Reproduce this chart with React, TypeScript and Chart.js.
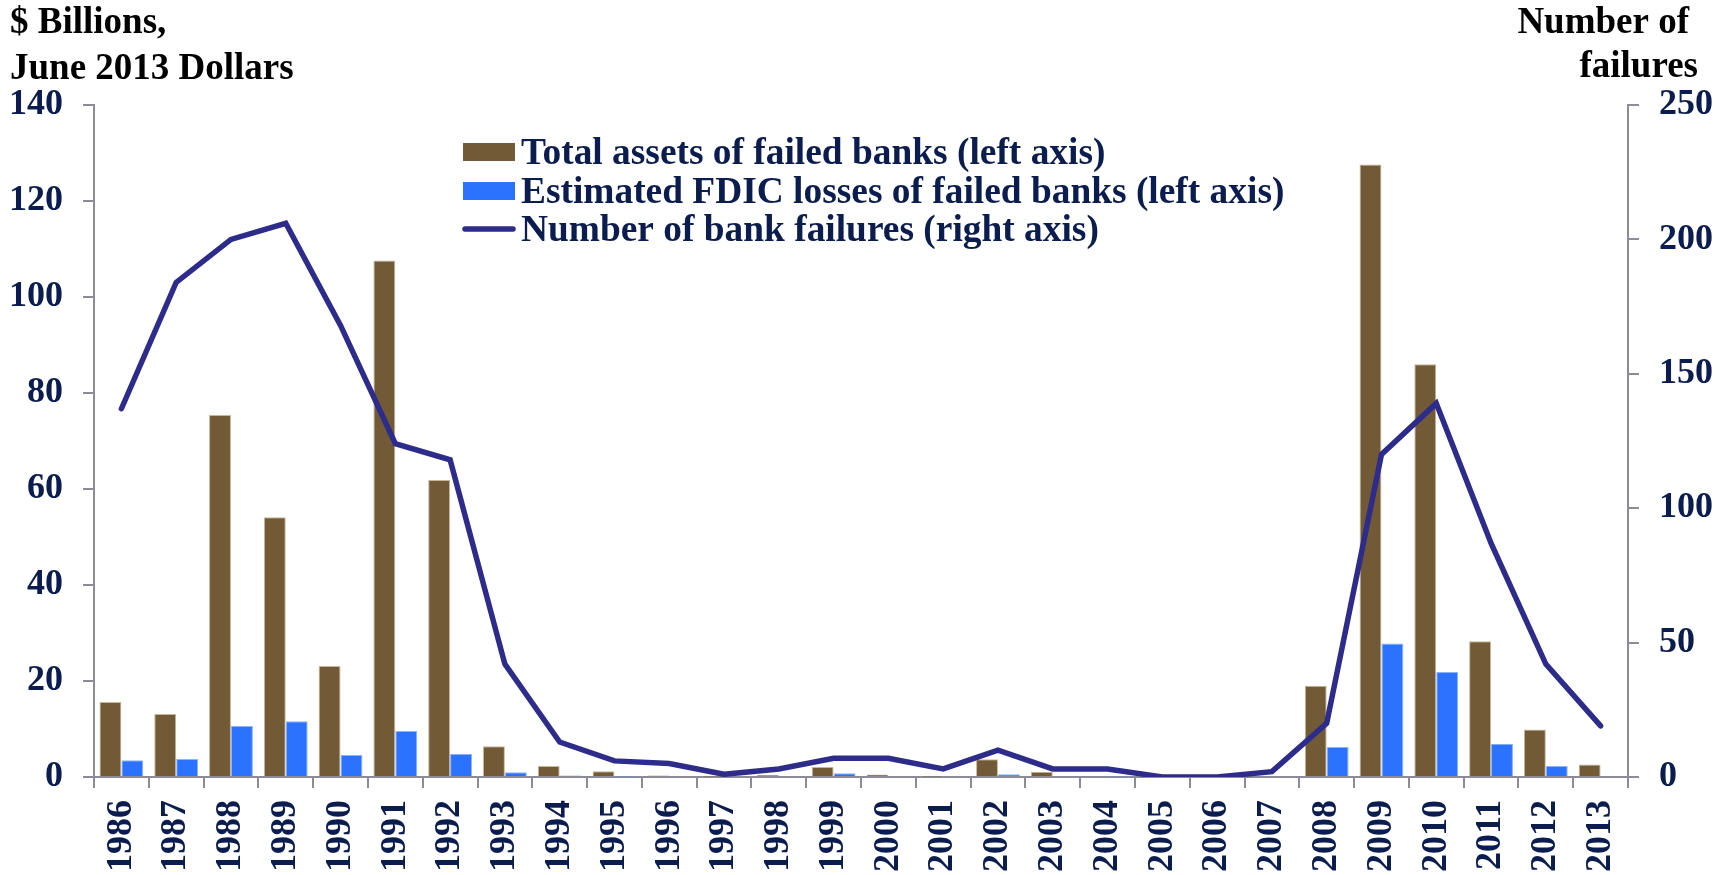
import React, { useEffect, useRef } from "react";
import { Chart, registerables } from "chart.js";

Chart.register(...registerables);

const years = [
  "1986", "1987", "1988", "1989", "1990", "1991", "1992", "1993", "1994", "1995",
  "1996", "1997", "1998", "1999", "2000", "2001", "2002", "2003", "2004", "2005",
  "2006", "2007", "2008", "2009", "2010", "2011", "2012", "2013",
];

// $ billions, June 2013 dollars
const totalAssets = [
  15.6, 13.1, 75.4, 54.1, 23.1, 107.6, 61.9, 6.4, 2.3, 1.2,
  0.3, 0.05, 0.4, 2.1, 0.5, 0.05, 3.7, 1.1, 0.2, 0,
  0, 0, 19.0, 127.6, 86.0, 28.3, 9.9, 2.6,
];

const fdicLosses = [
  3.5, 3.75, 10.6, 11.6, 4.6, 9.6, 4.8, 1.0, 0.3, 0.1,
  0, 0, 0.2, 0.8, 0, 0, 0.55, 0.2, 0.1, 0,
  0, 0, 6.25, 27.8, 21.9, 6.9, 2.3, 0,
];

// count of failed banks per year
const failures = [
  137, 184, 200, 206, 168, 124, 118, 42, 13, 6,
  5, 1, 3, 7, 7, 3, 10, 3, 3, 0,
  0, 2, 20, 120, 139, 87, 42, 19,
];

const leftTicks = { min: 0, max: 140, step: 20 };
const rightTicks = { min: 0, max: 250, step: 50 };

const leftTitle = ["$ Billions,", "June 2013 Dollars"];
const rightTitle = ["Number of", "failures"];

const seriesLabels = [
  "Total assets of failed banks (left axis)",
  "Estimated FDIC losses of failed banks (left axis)",
  "Number of bank failures (right axis)",
];

const BROWN = "#725a37";
const BLUE = "#2a72ff";
const LINE = "#2e2c8a";
const NAVY = "#0b1d4e";
const AXIS = "#8c8c98";
const SERIF = "'Liberation Serif', 'Times New Roman', serif";

const overlayPlugin = {
  id: "overlayText",
  afterDraw(chart: any) {
    const ctx = chart.ctx as CanvasRenderingContext2D;
    ctx.save();
    ctx.font = `bold 37px ${SERIF}`;
    ctx.fillStyle = "#000";
    ctx.textBaseline = "alphabetic";

    // axis titles
    ctx.textAlign = "left";
    ctx.fillText(leftTitle[0], 10, 33);
    ctx.fillText(leftTitle[1], 10, 79);
    ctx.textAlign = "right";
    ctx.fillText(rightTitle[0], 1689, 33);
    ctx.fillText(rightTitle[1], 1698, 77);

    // legend
    ctx.font = `bold 37.4px ${SERIF}`;
    const datasets = chart.data.datasets;
    const order = [1, 2, 0];
    const swX = 463;
    const swW = 52;
    const rowBase = [164, 203, 241];
    ctx.textAlign = "left";
    order.forEach((di, row) => {
      const ds = datasets[di];
      const base = rowBase[row];
      const mid = base - 12;
      if (ds.type === "line") {
        ctx.strokeStyle = ds.borderColor;
        ctx.lineWidth = 5.5;
        ctx.lineCap = "round";
        ctx.beginPath();
        ctx.moveTo(swX + 2, mid);
        ctx.lineTo(swX + swW - 2, mid);
        ctx.stroke();
      } else {
        ctx.fillStyle = ds.backgroundColor;
        ctx.fillRect(swX, mid - 9, swW, 18);
      }
      ctx.fillStyle = NAVY;
      ctx.fillText(ds.label, swX + swW + 6, base);
    });
    ctx.restore();
  },
};

export default function App() {
  const canvasRef = useRef<HTMLCanvasElement | null>(null);

  useEffect(() => {
    document.body.style.margin = "0";
    const canvas = canvasRef.current;
    if (!canvas) return;

    const tickFont = { family: SERIF, size: 36, weight: "bold" as const };

    const chart = new Chart(canvas, {
      type: "bar",
      data: {
        labels: years,
        datasets: [
          {
            type: "line",
            label: seriesLabels[2],
            data: failures,
            yAxisID: "y1",
            borderColor: LINE,
            backgroundColor: LINE,
            borderWidth: 5.5,
            borderCapStyle: "round",
            borderJoinStyle: "miter",
            pointRadius: 0,
            tension: 0,
            order: 0,
          },
          {
            type: "bar",
            label: seriesLabels[0],
            data: totalAssets,
            yAxisID: "y",
            backgroundColor: BROWN,
            borderColor: "#c8b795",
            borderWidth: 1,
            categoryPercentage: 0.8,
            barPercentage: 1.0,
            order: 1,
          },
          {
            type: "bar",
            label: seriesLabels[1],
            data: fdicLosses,
            yAxisID: "y",
            backgroundColor: BLUE,
            borderColor: "#8db2ff",
            borderWidth: 1,
            categoryPercentage: 0.8,
            barPercentage: 1.0,
            order: 1,
          },
        ],
      },
      options: {
        responsive: false,
        animation: false,
        devicePixelRatio: 1,
        layout: { padding: { top: 105, left: 0, right: 0, bottom: 0 } },
        plugins: {
          legend: { display: false },
          tooltip: { enabled: false },
        },
        scales: {
          x: {
            type: "category",
            offset: true,
            grid: {
              offset: true,
              drawOnChartArea: false,
              drawTicks: true,
              tickLength: 11,
              color: AXIS,
              lineWidth: 2,
            },
            border: { display: true, color: AXIS, width: 2 },
            ticks: {
              font: tickFont,
              color: NAVY,
              minRotation: 90,
              maxRotation: 90,
              autoSkip: false,
              padding: 12,
            },
            afterFit: (scale: any) => {
              scale.height = 98;
            },
          },
          y: {
            type: "linear",
            position: "left",
            min: leftTicks.min,
            max: leftTicks.max,
            grid: {
              drawOnChartArea: false,
              drawTicks: true,
              tickLength: 11,
              color: AXIS,
              lineWidth: 2,
            },
            border: { display: true, color: AXIS, width: 2 },
            ticks: {
              stepSize: leftTicks.step,
              font: tickFont,
              color: NAVY,
              padding: 20,
            },
            afterFit: (scale: any) => {
              scale.width = 94;
            },
          },
          y1: {
            type: "linear",
            position: "right",
            min: rightTicks.min,
            max: rightTicks.max,
            grid: {
              drawOnChartArea: false,
              drawTicks: true,
              tickLength: 11,
              color: AXIS,
              lineWidth: 2,
            },
            border: { display: true, color: AXIS, width: 2 },
            ticks: {
              stepSize: rightTicks.step,
              font: tickFont,
              color: NAVY,
              padding: 20,
            },
            afterFit: (scale: any) => {
              scale.width = 104;
            },
          },
        },
      },
      plugins: [overlayPlugin],
    } as any);

    return () => {
      chart.destroy();
    };
  }, []);

  return (
    <div style={{ position: "absolute", left: 0, top: 0, width: 1732, height: 875, background: "#fff" }}>
      <canvas ref={canvasRef} width={1732} height={875} style={{ display: "block", width: 1732, height: 875 }} />
    </div>
  );
}
